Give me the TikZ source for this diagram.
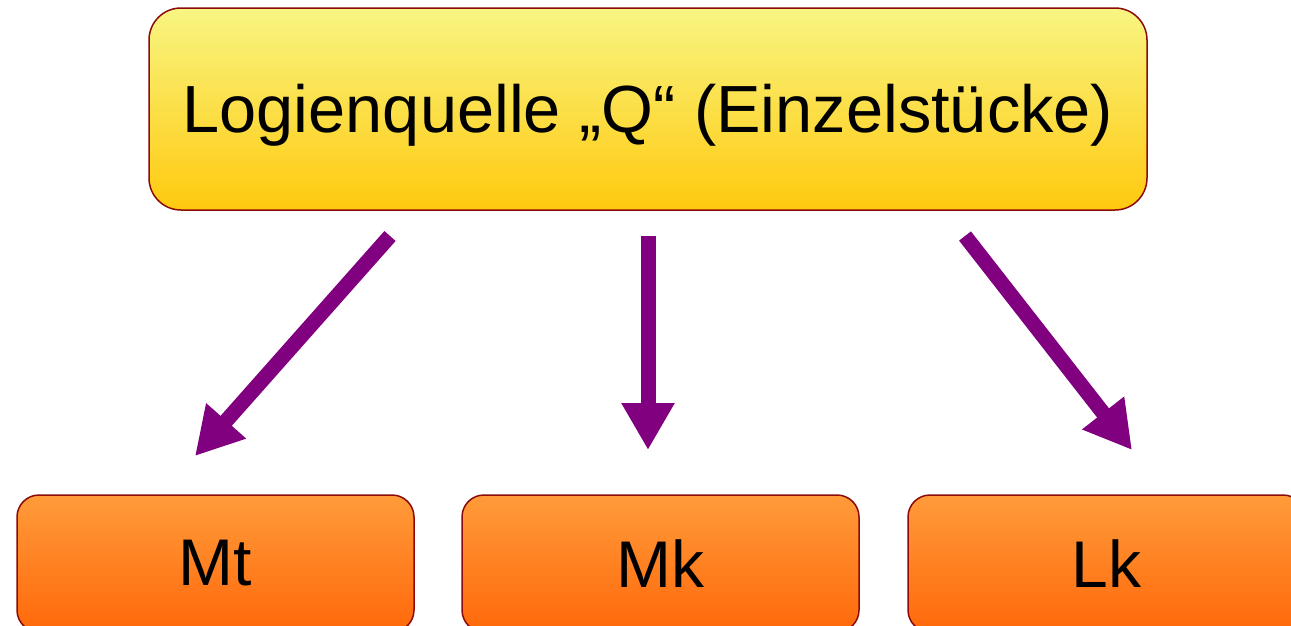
\documentclass[tikz,border=0pt]{standalone}
\usepackage{fontspec}
\setmainfont{Liberation Sans}
\usetikzlibrary{arrows.meta}
\definecolor{boxline}{HTML}{8B0A0A}
\definecolor{ytop}{HTML}{F8F582}
\definecolor{ybot}{HTML}{FFC90E}
\definecolor{otop}{HTML}{FF9B3A}
\definecolor{obot}{HTML}{FF680A}
\definecolor{arrowpurple}{HTML}{800080}
\tikzset{
  topbox/.style={draw=boxline, line width=1.5pt, rounded corners=32pt, top color=ytop, bottom color=ybot,
    minimum width=998pt, minimum height=202pt, inner sep=0pt, font=\fontsize{66.7}{80}\selectfont},
  subbox/.style={draw=boxline, line width=1.5pt, rounded corners=22pt, top color=otop, bottom color=obot,
    minimum width=397pt, minimum height=137pt, inner sep=0pt, font=\fontsize{66}{80}\selectfont},
  bigarrow/.style={draw=arrowpurple, line width=15pt, -{Triangle[length=47pt,width=50pt]}}
}
\begin{document}
\begin{tikzpicture}[x=1pt,y=-1pt]
\useasboundingbox (0,0) rectangle (1291,625);
\clip (0,0) rectangle (1291,625);
\node[topbox] (q) at (648,109) {\raisebox{-23pt}[0pt][0pt]{Logienquelle „Q“ (Einzelstücke)}};
\node[subbox] (mt) at (215.5,563.5) {Mt};
\node[subbox] (mk) at (660.5,563.5) {Mk};
\node[subbox] (lk) at (1106.5,563.5) {Lk};
\coordinate (s1) at (390,236);
\coordinate (e1) at (195,456);
\coordinate (s2) at (648,236);
\coordinate (e2) at (648,450);
\coordinate (s3) at (965,236);
\coordinate (e3) at (1132,450);
\draw[bigarrow] (s1) -- (e1);
\draw[bigarrow] (s2) -- (e2);
\draw[bigarrow] (s3) -- (e3);
\end{tikzpicture}
\end{document}
